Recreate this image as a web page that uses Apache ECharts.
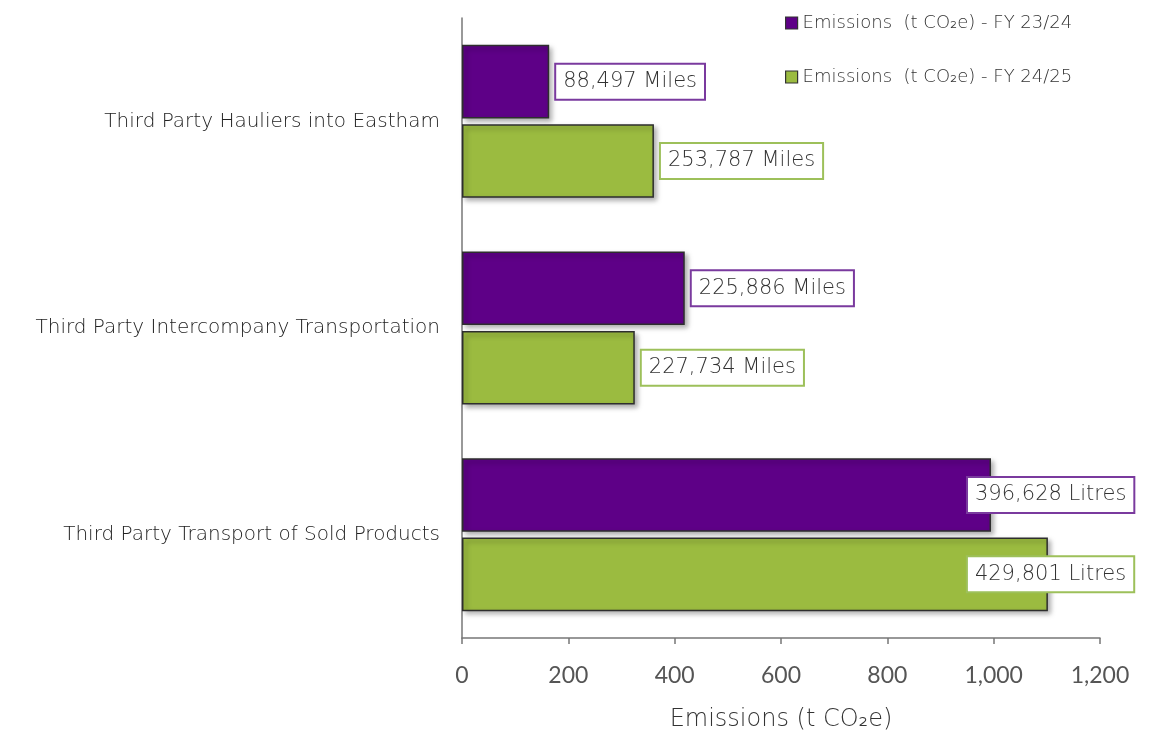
<!DOCTYPE html>
<html><head><meta charset="utf-8">
<script src="https://cdn.jsdelivr.net/npm/echarts@6/dist/echarts.min.js"></script>
<style>html,body{margin:0;padding:0;background:#fff}#c{width:1158px;height:733px}</style>
</head><body><div id="c"></div>
<script>
const categories = ['Third Party Hauliers into Eastham', 'Third Party Intercompany Transportation', 'Third Party Transport of Sold Products'];
const seriesNames = ['Emissions  (t CO\u2082e) - FY 23/24', 'Emissions  (t CO\u2082e) - FY 24/25'];
const fy2324 = [164, 419, 995];
const fy2425 = [361, 325, 1102];
const labels2324 = ['88,497 Miles', '225,886 Miles', '396,628 Litres'];
const labels2425 = ['253,787 Miles', '227,734 Miles', '429,801 Litres'];
const xTicks = [0, 200, 400, 600, 800, 1000, 1200];

const chart = echarts.init(document.getElementById('c'));
const wide = '"DejaVu Sans", sans-serif';
const thin = 'Lato, "Noto Sans", sans-serif';
const colors = ['#5E0087', '#9BBB40'];
const borders = ['#7A3A9E', '#9DC05A'];
// label offsets for the long bars (labels pulled back inside the chart area)
const offsets = [[[0,0],[0,0],[-30,0]], [[0,0],[0,0],[-87,0]]];

function mkData(vals, labs, si) {
  return vals.map((v, i) => ({
    value: v,
    label: { formatter: labs[i], offset: offsets[si][i] }
  }));
}
function mkSeries(si, vals, labs) {
  return {
    name: seriesNames[si], type: 'bar',
    data: mkData(vals, labs, si),
    barCategoryGap: '26%', barGap: '8%',
    itemStyle: { color: colors[si], borderColor: '#2e2e2e', borderWidth: 1.5,
      shadowColor: 'rgba(0,0,0,0.35)', shadowBlur: 5, shadowOffsetX: 3, shadowOffsetY: 3 },
    label: { show: true, position: 'right', distance: 7,
      fontFamily: wide, fontWeight: 300, fontSize: 21, color: '#333',
      backgroundColor: '#fff', borderColor: borders[si], borderWidth: 2,
      padding: [7, 7, 6, 7] },
    emphasis: { disabled: true }
  };
}
chart.setOption({
  animation: false,
  grid: { left: 462, right: 58, top: 18, bottom: 95, containLabel: false, outerBoundsMode: 'none' },
  legend: {
    orient: 'vertical', left: 780, top: 9, itemGap: 36,
    itemWidth: 12, itemHeight: 12, icon: 'rect',
    itemStyle: { borderColor: '#333', borderWidth: 1.2 },
    textStyle: { fontFamily: wide, fontWeight: 300, fontSize: 18, color: '#333' },
    data: seriesNames
  },
  xAxis: {
    type: 'value', min: xTicks[0], max: xTicks[xTicks.length-1], interval: 200,
    name: 'Emissions (t CO\u2082e)', nameLocation: 'middle', nameGap: 70,
    nameTextStyle: { fontFamily: wide, fontWeight: 300, fontSize: 24, color: '#333' },
    axisLine: { show: true, lineStyle: { color: '#777', width: 1.5 } },
    axisTick: { show: true, length: 6, lineStyle: { color: '#777', width: 1.5 } },
    splitLine: { show: false },
    axisLabel: { fontFamily: thin, fontSize: 23, color: '#555', margin: 26,
      formatter: v => v.toLocaleString('en-US') }
  },
  yAxis: {
    type: 'category', data: categories, inverse: true,
    axisLine: { show: true, lineStyle: { color: '#777', width: 1.5 } },
    axisTick: { show: false },
    axisLabel: { fontFamily: wide, fontWeight: 300, fontSize: 20, color: '#222', margin: 22,
      padding: [9, 0, 0, 0] }
  },
  series: [mkSeries(0, fy2324, labels2324), mkSeries(1, fy2425, labels2425)]
});
</script></body></html>
